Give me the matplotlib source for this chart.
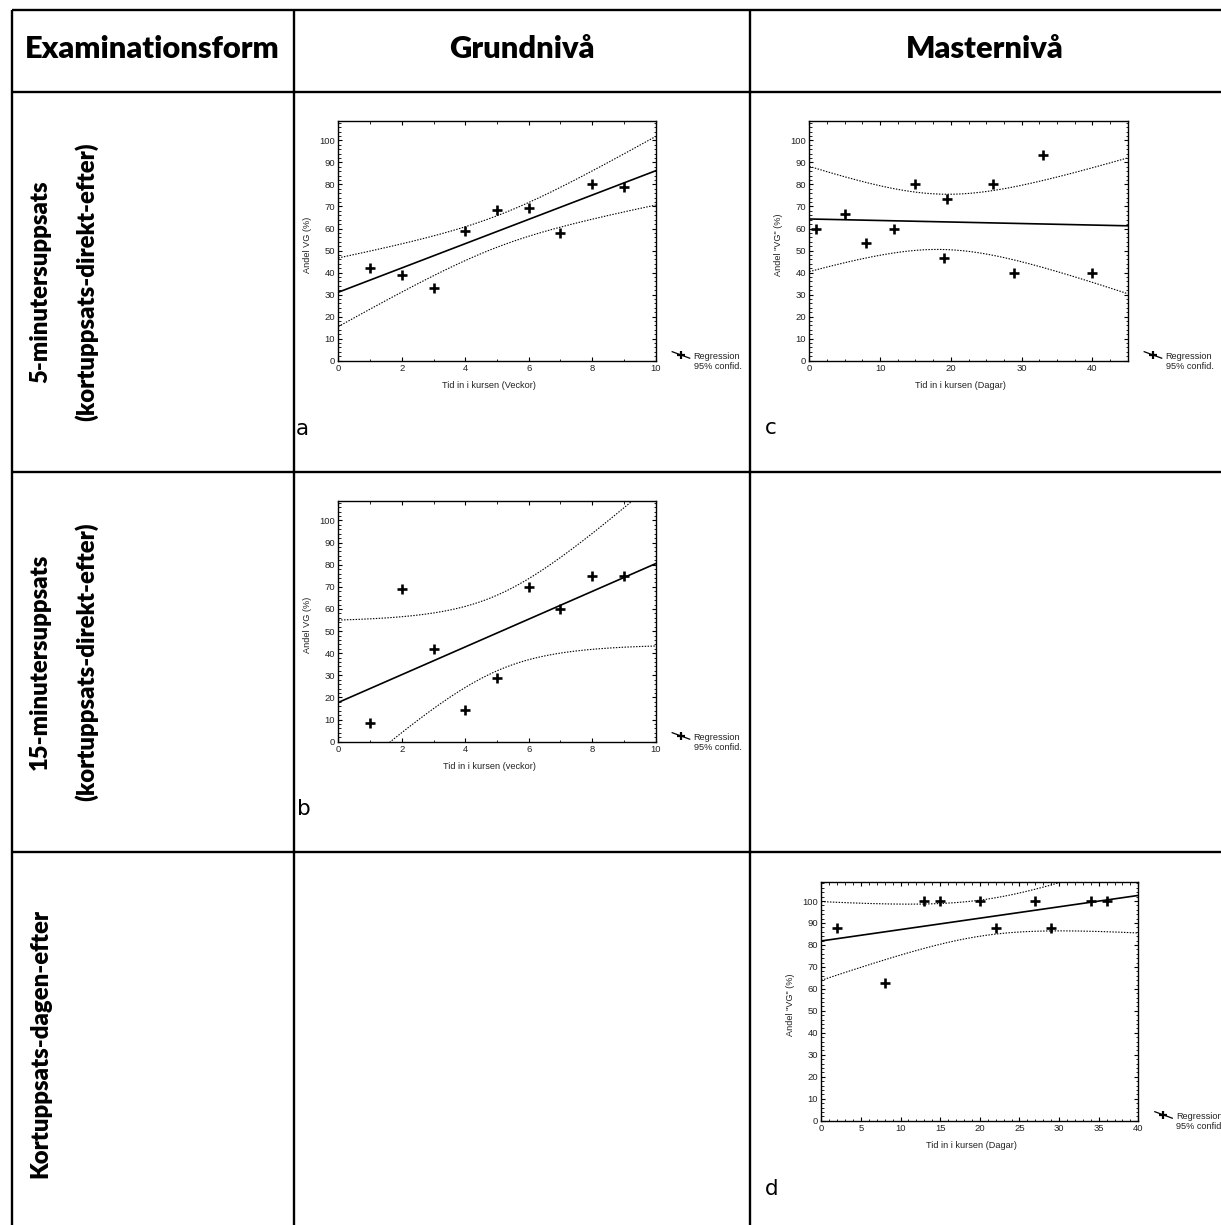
import numpy as np
import matplotlib
matplotlib.use("Agg")
import matplotlib.pyplot as plt
from matplotlib.lines import Line2D
from matplotlib.ticker import MultipleLocator

# ---------------- data ----------------
a_x = [1, 2, 3, 4, 5, 6, 7, 8, 9]
a_y = [42.3, 38.7, 33.1, 59.0, 68.3, 69.3, 58.0, 80.3, 78.8]

b_x = [1, 2, 3, 4, 5, 6, 7, 8, 9]
b_y = [8.3, 69.2, 41.7, 14.3, 28.6, 70.0, 60.0, 75.0, 75.0]

c_x = [1, 5, 8, 12, 15, 19.5, 19, 26, 29, 33, 40]
c_y = [60.0, 66.7, 53.3, 60.0, 80.0, 73.3, 46.7, 80.0, 40.0, 93.3, 40.0]

d_x = [2, 8, 13, 15, 20, 22, 27, 29, 34, 36]
d_y = [87.5, 62.5, 100, 100, 100, 87.5, 100, 87.5, 100, 100]

headers = ["Examinationsform", "Grundnivå", "Masternivå"]
row1 = ["5-minutersuppsats", "(kortuppsats-direkt-efter)"]
row2 = ["15-minutersuppsats", "(kortuppsats-direkt-efter)"]
row3 = ["Kortuppsats-dagen-efter"]
legend_text = "Regression\n95% confid."
panel_letters = ["a", "b", "c", "d"]
# two-sided 95% t quantiles for n-2 degrees of freedom
t95 = {7: 2.3646, 8: 2.3060, 9: 2.2622}

# ---------------- figure ----------------
W, H = 1221, 1225
fig = plt.figure(figsize=(W / 100, H / 100), dpi=100)
fig.patch.set_facecolor("white")


def fx(x):
    return x / W


def fy(y):
    return 1 - y / H


def fline(x0, y0, x1, y1, lw=1.7, **kw):
    fig.add_artist(Line2D([fx(x0), fx(x1)], [fy(y0), fy(y1)],
                          transform=fig.transFigure, color="k", lw=lw,
                          solid_capstyle="butt", **kw))


# table grid
for yy in [10, 92, 472, 852]:
    fline(12, yy, W, yy)
for xx in [12, 294, 750]:
    fline(xx, 10, xx, H)

renderer = fig.canvas.get_renderer()
BOLD = dict(family=["Lato", "DejaVu Sans"], weight="heavy", color="k")


def fitted_size(s, target_w, **kw):
    t = fig.text(0, 0, s, fontsize=20, **kw)
    w = t.get_window_extent(renderer).width
    t.remove()
    return 20 * target_w / w


hsize = fitted_size(headers[0], 256, **BOLD)
for s, xc in zip(headers, [152, 522, 985]):
    fig.text(fx(xc), fy(49), s, fontsize=hsize, ha="center", va="center", **BOLD)

rsize = fitted_size(row1[1], 278, **BOLD)
for lines, yc in [(row1, 282), (row2, 662), (row3, 1043)]:
    for s, xc in zip(lines, [40, 86]):
        fig.text(fx(xc), fy(yc), s, fontsize=rsize, rotation=90,
                 ha="center", va="center", **BOLD)

SMALL = dict(family=["Liberation Sans", "DejaVu Sans"])


def chart(rect, x, y, xlim, xmajor, xminor, xlabel, ylabel, letter, letter_pos):
    x0, y0, x1, y1 = rect
    ax = fig.add_axes([fx(x0), fy(y1), (x1 - x0) / W, (y1 - y0) / H])
    x = np.asarray(x, float)
    y = np.asarray(y, float)
    n = len(x)
    xm = x.mean()
    sxx = ((x - xm) ** 2).sum()
    slope = ((x - xm) * (y - y.mean())).sum() / sxx
    icpt = y.mean() - slope * xm
    s = np.sqrt(((y - (icpt + slope * x)) ** 2).sum() / (n - 2))
    xs = np.linspace(xlim[0], xlim[1], 300)
    yhat = icpt + slope * xs
    half = t95[n - 2] * s * np.sqrt(1 / n + (xs - xm) ** 2 / sxx)
    ax.plot(xs, yhat, color="k", lw=1.2)
    ax.plot(xs, yhat + half, color="k", lw=0.8, ls=(0, (1.3, 1.3)))
    ax.plot(xs, yhat - half, color="k", lw=0.8, ls=(0, (1.3, 1.3)))
    ax.plot(x, y, ls="none", marker="+", ms=7, mew=1.9, color="k")
    ax.set_xlim(*xlim)
    ax.set_ylim(0, 108.8)
    ax.xaxis.set_major_locator(MultipleLocator(xmajor))
    ax.xaxis.set_minor_locator(MultipleLocator(xminor))
    ax.yaxis.set_major_locator(MultipleLocator(10))
    ax.yaxis.set_minor_locator(MultipleLocator(2))
    ax.tick_params(which="both", direction="in", top=True, right=True,
                   labelsize=6.8, labelcolor="#222222", pad=2.5)
    ax.tick_params(which="major", length=3, width=0.8)
    ax.tick_params(which="minor", length=1.8, width=0.6)
    for lab in ax.get_xticklabels() + ax.get_yticklabels():
        lab.set_family(SMALL["family"])
    for sp in ax.spines.values():
        sp.set_linewidth(1.0)
    # axis labels
    fig.text(fx((x0 + x1) / 2 - 8), fy(y1 + 25), xlabel, fontsize=6.6,
             ha="center", va="center", color="#222222", **SMALL)
    fig.text(fx(x0 - 31), fy((y0 + y1) / 2 + 4), ylabel, fontsize=6.6,
             rotation=90, ha="center", va="center", color="#222222", **SMALL)
    # legend (symbol + text) to the right of the plot
    fig.add_artist(Line2D([fx(x1 + 16.5), fx(x1 + 34)], [fy(y1 - 9), fy(y1 - 2.5)],
                          transform=fig.transFigure, color="k", lw=0.9))
    fig.add_artist(Line2D([fx(x1 + 25)], [fy(y1 - 5.7)], transform=fig.transFigure,
                          ls="none", marker="+", ms=6, mew=1.6, color="k"))
    fig.text(fx(x1 + 38), fy(y1 + 0.6), legend_text, fontsize=6.6, ha="left",
             va="center", linespacing=1.15, color="#222222", **SMALL)
    fig.text(fx(letter_pos[0]), fy(letter_pos[1]), letter, fontsize=15.5,
             ha="left", va="baseline", color="k", family=["DejaVu Sans"])
    return ax


chart((338.3, 121, 655.7, 360.7), a_x, a_y, (0, 10), 2, 1,
      "Tid in i kursen (Veckor)", "Andel VG (%)", panel_letters[0], (296, 435))
chart((338.3, 501, 655.7, 741.7), b_x, b_y, (0, 10), 2, 1,
      "Tid in i kursen (veckor)", "Andel VG (%)", panel_letters[1], (297, 815))
chart((809.3, 121, 1127.7, 360.7), c_x, c_y, (0, 45), 10, 2.5,
      "Tid in i kursen (Dagar)", 'Andel "VG" (%)', panel_letters[2], (765, 434))
chart((821.3, 881.7, 1138.3, 1120.7), d_x, d_y, (0, 40), 5, 1,
      "Tid in i kursen (Dagar)", 'Andel "VG" (%)', panel_letters[3], (765, 1195))

fig.savefig("out.png", dpi=100, facecolor="white")
